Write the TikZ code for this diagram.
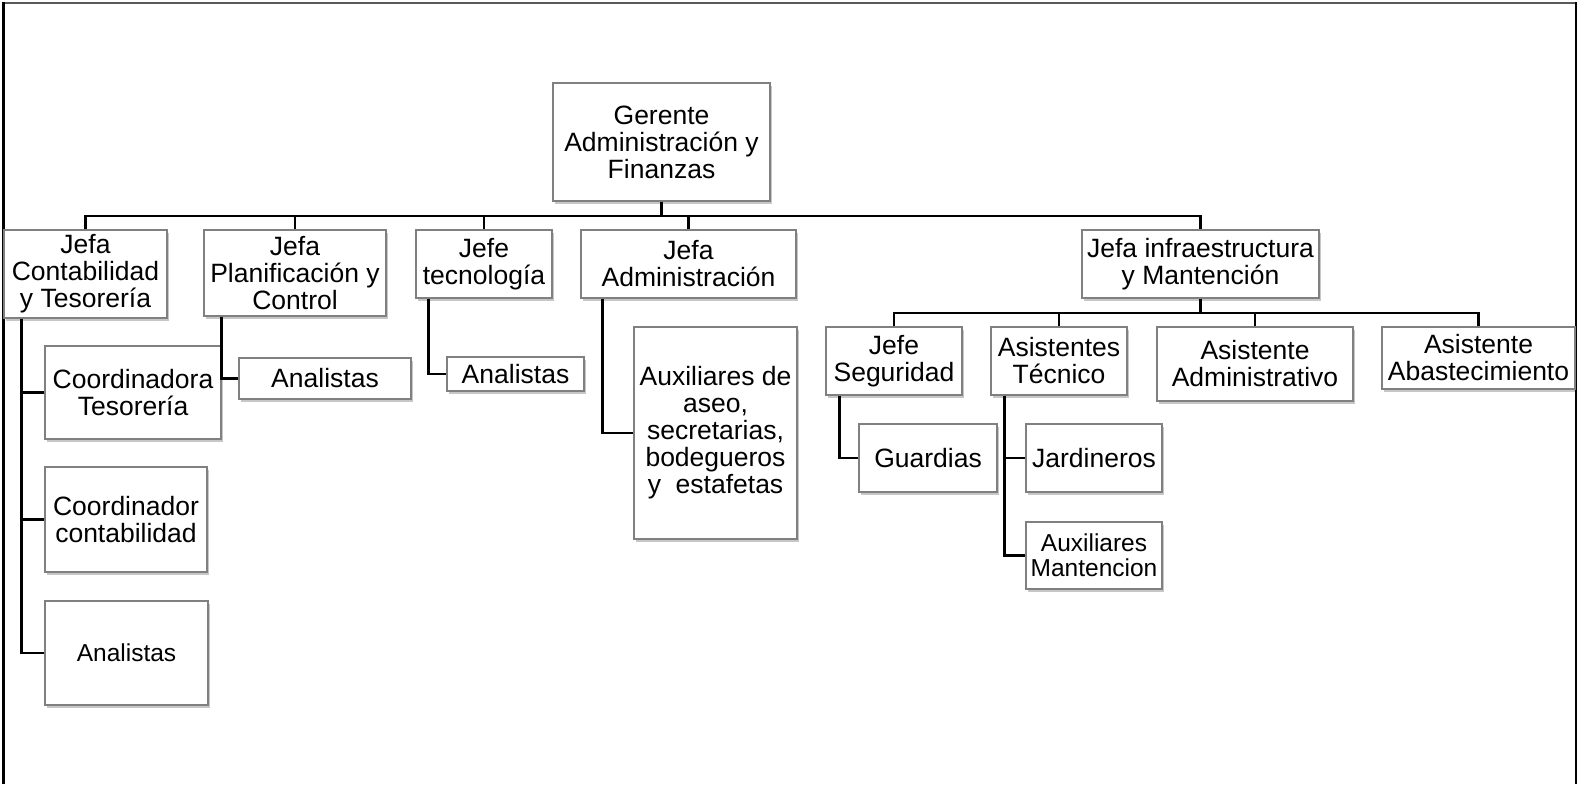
\documentclass[tikz,border=0pt]{standalone}
\usepackage{fontspec}
\setmainfont{Liberation Sans}
\usetikzlibrary{shadows}
\begin{document}
\begin{tikzpicture}[x=1pt,y=-1pt,
  box/.style={draw=black!50, line width=1.1pt, fill=white, inner sep=0pt, align=center,
    font=\fontsize{26.5}{27}\selectfont,
    drop shadow={shadow xshift=1.5pt, shadow yshift=-3pt, fill=black, opacity=0.22}},
  smallbox/.style={box, font=\fontsize{24.5}{25}\selectfont},
  conn/.style={draw=black, line width=2.3pt},
  frame/.style={draw=black, line width=2.4pt}]
\useasboundingbox (0,0) rectangle (1578,784);
% frame
\draw[draw=black!65, line width=1.6pt] (3,3) -- (1576,3);
\draw[frame] (3.5,2.5) -- (3.5,784);
\draw[frame] (1576,2.5) -- (1576,784);

% level 0
\node[box, minimum width=217pt, minimum height=118pt] (ger) at (661.5,142) {Gerente\\Administración y\\Finanzas};
% level 1
\node[box, minimum width=163pt, minimum height=88pt] (jc) at (85.5,274) {Jefa\\Contabilidad\\y Tesorería};
\node[box, minimum width=182pt, minimum height=86pt] (jp) at (295,273) {Jefa\\Planificación y\\Control};
\node[box, minimum width=136pt, minimum height=68pt] (jt) at (484,264) {Jefe\\tecnología};
\node[box, minimum width=215pt, minimum height=68pt] (ja) at (688.5,264) {Jefa\\Administración};
\node[box, minimum width=237pt, minimum height=68pt] (ji) at (1200.5,264) {Jefa infraestructura\\y Mantención};
% contabilidad children
\node[box, minimum width=176pt, minimum height=93pt] (ct) at (133,392.5) {Coordinadora\\Tesorería};
\node[box, minimum width=162pt, minimum height=105pt] (cc) at (126,519.5) {Coordinador\\contabilidad};
\node[smallbox, minimum width=163pt, minimum height=104pt] (ca) at (126.5,653) {Analistas};
% planificacion / tecnologia children
\node[box, minimum width=172pt, minimum height=41pt] (pa) at (325,378.5) {Analistas};
\node[box, minimum width=137pt, minimum height=34pt] (ta) at (515.5,374) {Analistas};
% administracion child
\node[box, minimum width=163pt, minimum height=212pt] (aux) at (715.5,433) {Auxiliares de\\aseo,\\secretarias,\\bodegueros\\y\ \ estafetas};
% infraestructura children
\node[box, minimum width=136pt, minimum height=68pt] (js) at (894,361) {Jefe\\Seguridad};
\node[box, minimum width=136pt, minimum height=68pt] (at) at (1059,361) {Asistentes\\Técnico};
\node[box, minimum width=196pt, minimum height=74pt] (aa) at (1255,364) {Asistente\\Administrativo};
\node[box, minimum width=193pt, minimum height=62pt] (ab) at (1478.5,358) {Asistente\\Abastecimiento};
% level 3
\node[box, minimum width=138pt, minimum height=68pt] (gu) at (928,458) {Guardias};
\node[box, minimum width=136pt, minimum height=68pt] (jd) at (1094,458) {Jardineros};
\node[smallbox, minimum width=136pt, minimum height=67pt] (am) at (1094,555.5) {Auxiliares\\Mantencion};

% main bus
\coordinate (bus) at (0,216);
\draw[conn] (ger.south) -- (ger.south |- bus);
\draw[conn] (jc.north) -- (jc.north |- bus) -- (ji.north |- bus) -- (ji.north);
\draw[conn] (jp.north) -- (jp.north |- bus);
\draw[conn] (jt.north) -- (jt.north |- bus);
\draw[conn] (ja.north) -- (ja.north |- bus);

% infra bus
\coordinate (ibus) at (0,313);
\draw[conn] (ji.south) -- (ji.south |- ibus);
\draw[conn] (js.north) -- (js.north |- ibus) -- (ab.north |- ibus) -- (ab.north);
\draw[conn] (at.north) -- (at.north |- ibus);
\draw[conn] (aa.north) -- (aa.north |- ibus);

% spines
\draw[conn] ([xshift=18pt]jc.south west) |- (ca.west);
\draw[conn] ([xshift=18pt]jc.south west) |- (ct.west);
\draw[conn] ([xshift=18pt]jc.south west) |- (cc.west);
\draw[conn] ([xshift=18pt]jp.south west) |- (pa.west);
\draw[conn] ([xshift=13pt]jt.south west) |- (ta.west);
\draw[conn] ([xshift=22pt]ja.south west) |- (aux.west);
\draw[conn] ([xshift=14pt]js.south west) |- (gu.west);
\draw[conn] ([xshift=14pt]at.south west) |- (am.west);
\draw[conn] ([xshift=14pt]at.south west) |- (jd.west);
\end{tikzpicture}
\end{document}
